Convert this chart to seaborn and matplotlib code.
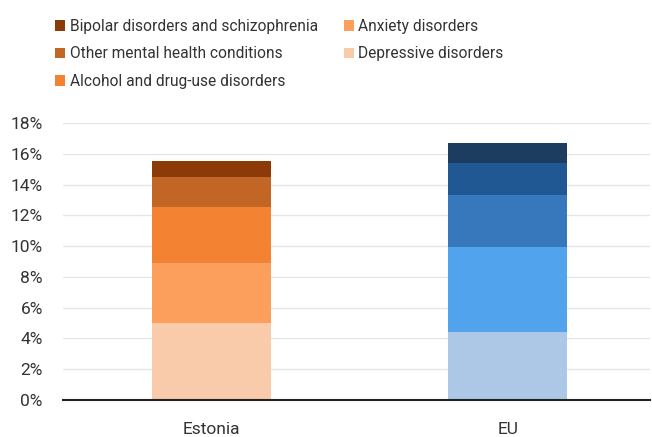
import matplotlib
matplotlib.use("Agg")
import matplotlib.pyplot as plt
import seaborn as sns
import numpy as np
import pandas as pd
from matplotlib.patches import Patch
from matplotlib.ticker import FuncFormatter

countries = ["Estonia", "EU"]
# bottom to top
categories = ["Depressive disorders", "Anxiety disorders", "Alcohol and drug-use disorders",
              "Other mental health conditions", "Bipolar disorders and schizophrenia"]
estonia = [5.0, 3.9, 3.65, 1.95, 1.05]
eu = [4.45, 5.5, 3.4, 2.07, 1.3]
orange = ["#F9CBAA", "#FD9F5C", "#F38233", "#C16624", "#8C3B08"]
blue = ["#ADC8E6", "#50A3EC", "#3778BD", "#205893", "#1C3C60"]

sns.set_theme(style="white")
plt.rcParams['font.family'] = ['Roboto', 'DejaVu Sans']

fig = plt.figure(figsize=(6.52, 4.37), dpi=100)
ax = fig.add_axes([63/652, 37/437, 587/652, (400-123)/437])

cum_e = np.cumsum(estonia)
cum_u = np.cumsum(eu)
for i in reversed(range(len(categories))):
    df = pd.DataFrame({"country": countries, "value": [cum_e[i], cum_u[i]]})
    sns.barplot(data=df, x="country", y="value", hue="country",
                palette=[orange[i], blue[i]], width=0.4, legend=False,
                ax=ax, saturation=1, zorder=3, linewidth=0, edgecolor="none")

ax.set_ylim(0, 18)
ax.set_xlim(-0.5, 1.48)
ax.set_yticks(np.arange(0, 19, 2))
ax.yaxis.set_major_formatter(FuncFormatter(lambda v, p: f"{int(v)}%"))
ax.grid(axis="y", color="#E6E6E6", linewidth=1, zorder=0)
ax.set_axisbelow(True)
for s in ["top", "right", "left"]:
    ax.spines[s].set_visible(False)
ax.spines["bottom"].set_color("#222222")
ax.spines["bottom"].set_linewidth(1.5)
ax.spines["bottom"].set_zorder(5)
ax.set_xlabel("")
ax.set_ylabel("")
ax.tick_params(axis="both", length=0, labelsize=12.5, colors="#333333")
ax.tick_params(axis="y", pad=14.5)
ax.tick_params(axis="x", pad=15.5)

order = [4, 3, 2, 1, 0]
handles = [Patch(facecolor=orange[i], edgecolor="none", label=categories[i]) for i in order]
fig.legend(handles=handles, ncol=2, loc="upper left", bbox_to_anchor=(41/652, 1 - 5/437),
           frameon=False, fontsize=11.2, handlelength=0.65, handleheight=0.65,
           handletextpad=0.3, columnspacing=1.65, labelspacing=0.8, labelcolor="#333333")

fig.savefig("out.png", dpi=100)
